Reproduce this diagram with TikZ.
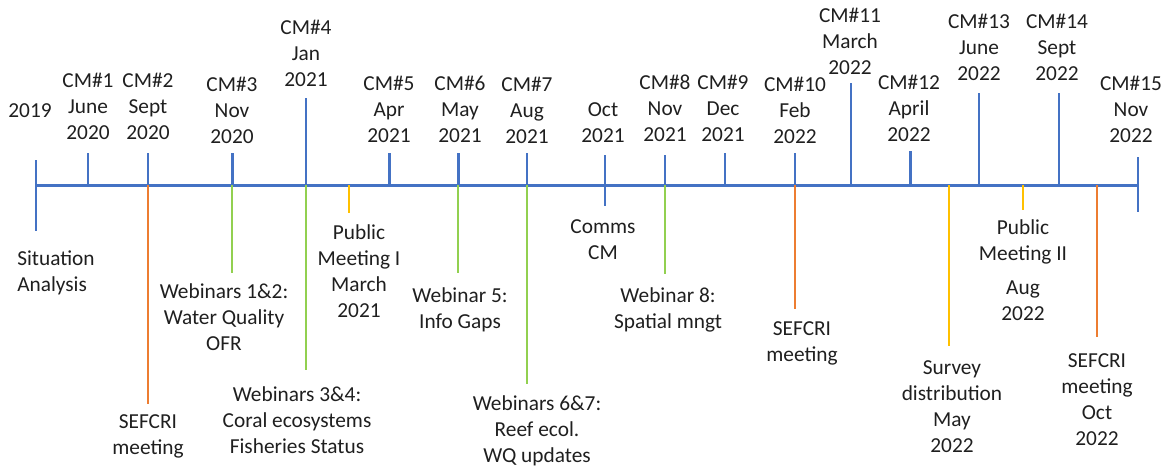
\documentclass[tikz,border=0pt]{standalone}
\usepackage{fontspec}
\setmainfont{Carlito}
\definecolor{tlblue}{HTML}{4472C4}
\definecolor{tlorange}{HTML}{ED7D31}
\definecolor{tlgreen}{HTML}{92D050}
\definecolor{tlyellow}{HTML}{FFC000}
\begin{document}
\begin{tikzpicture}[x=0.75pt,y=-0.75pt,
  lbl/.style={align=center,inner sep=0pt,font=\fontsize{16}{19.5}\selectfont,text=black!88},
  axisline/.style={draw=tlblue,line width=2.25pt},
  bluetick/.style={draw=tlblue,line width=1.3pt},
  boldtick/.style={draw=tlblue,line width=2.25pt},
  orangeline/.style={draw=tlorange,line width=1.5pt},
  greenline/.style={draw=tlgreen,line width=1.6pt},
  yellowline/.style={draw=tlyellow,line width=1.6pt}]
\useasboundingbox (0,0) rectangle (1169,468);

% timeline axis
\coordinate (ax0) at (36,185);
\coordinate (ax1) at (1138,185);
\draw[axisline] (ax0) -- (ax1);

% end markers crossing the axis
\coordinate (s0) at (36,160);  \coordinate (s1) at (36,231);
\draw[bluetick] (s0) -- (s1);
\coordinate (e0) at (1138,157); \coordinate (e1) at (1138,212);
\draw[bluetick] (e0) -- (e1);
\coordinate (oc0) at (605,155); \coordinate (oc1) at (605,206);
\draw[bluetick] (oc0) -- (oc1);

% meeting ticks above the axis
\coordinate (c1) at (88,153);   \draw[bluetick] (c1) -- (c1 |- ax0);
\coordinate (c2) at (148,153);  \draw[bluetick] (c2) -- (c2 |- ax0);
\coordinate (c3) at (232,153);  \draw[boldtick] (c3) -- (c3 |- ax0);
\coordinate (c4) at (306,98);   \draw[bluetick] (c4) -- (c4 |- ax0);
\coordinate (c5) at (389,153);  \draw[boldtick] (c5) -- (c5 |- ax0);
\coordinate (c6) at (458,153);  \draw[boldtick] (c6) -- (c6 |- ax0);
\coordinate (c7) at (527,153);  \draw[bluetick] (c7) -- (c7 |- ax0);
\coordinate (c8) at (665,155);  \draw[bluetick] (c8) -- (c8 |- ax0);
\coordinate (c9) at (725,153);  \draw[bluetick] (c9) -- (c9 |- ax0);
\coordinate (c10) at (795,153); \draw[bluetick] (c10) -- (c10 |- ax0);
\coordinate (c11) at (851,83);  \draw[bluetick] (c11) -- (c11 |- ax0);
\coordinate (c12) at (910,151); \draw[boldtick] (c12) -- (c12 |- ax0);
\coordinate (c13) at (979,93);  \draw[bluetick] (c13) -- (c13 |- ax0);
\coordinate (c14) at (1059,93); \draw[bluetick] (c14) -- (c14 |- ax0);

% event lines below the axis
\coordinate (o1) at (148,404);  \draw[orangeline] (o1 |- ax0) -- (o1);
\coordinate (g1) at (232,273);  \draw[greenline] (g1 |- ax0) -- (g1);
\coordinate (g2) at (306,370);  \draw[greenline] (g2 |- ax0) -- (g2);
\coordinate (y1) at (349,213);  \draw[yellowline] (y1 |- ax0) -- (y1);
\coordinate (g3) at (458,273);  \draw[greenline] (g3 |- ax0) -- (g3);
\coordinate (g4) at (527,384);  \draw[greenline] (g4 |- ax0) -- (g4);
\coordinate (g5) at (665,274);  \draw[greenline] (g5 |- ax0) -- (g5);
\coordinate (o2) at (795,309);  \draw[orangeline] (o2 |- ax0) -- (o2);
\coordinate (y2) at (949,346);  \draw[yellowline] (y2 |- ax0) -- (y2);
\coordinate (y3) at (1023,210); \draw[yellowline] (y3 |- ax0) -- (y3);
\coordinate (o3) at (1097,337); \draw[orangeline] (o3 |- ax0) -- (o3);

% labels above the axis
\node[lbl] (l2019) at (30,111) {2019};
\node[lbl] (lc1) at (88,106) {CM\#1\\June\\2020};
\node[lbl] (lc2) at (148,106) {CM\#2\\Sept\\2020};
\node[lbl] (lc3) at (232,110) {CM\#3\\Nov\\2020};
\node[lbl] (lc4) at (306,53) {CM\#4\\Jan\\2021};
\node[lbl] (lc5) at (389,109) {CM\#5\\Apr\\2021};
\node[lbl] (lc6) at (460,109) {CM\#6\\May\\2021};
\node[lbl] (lc7) at (527,110) {CM\#7\\Aug\\2021};
\node[lbl] (loct) at (603,123) {Oct\\2021};
\node[lbl] (lc8) at (665,108) {CM\#8\\Nov\\2021};
\node[lbl] (lc9) at (723,108) {CM\#9\\Dec\\2021};
\node[lbl] (lc10) at (795,110) {CM\#10\\Feb\\2022};
\node[lbl] (lc11) at (850,41) {CM\#11\\March\\2022};
\node[lbl] (lc12) at (909,108) {CM\#12\\April\\2022};
\node[lbl] (lc13) at (979,47) {CM\#13\\June\\2022};
\node[lbl] (lc14) at (1057,47) {CM\#14\\Sept\\2022};
\node[lbl] (lc15) at (1131,109) {CM\#15\\Nov\\2022};

% labels below the axis
\node[lbl,anchor=west,align=left] (lsit) at (17,273) {Situation\\Analysis};
\node[lbl] (lsef1) at (148,436) {SEFCRI\\meeting};
\node[lbl] (lw12) at (224,317) {Webinars 1\&2:\\Water Quality\\OFR};
\node[lbl] (lpm1) at (359,271) {Public\\Meeting I\\March\\2021};
\node[lbl] (lw34) at (297,420) {Webinars 3\&4:\\Coral ecosystems\\Fisheries Status};
\node[lbl] (lw5) at (460,310) {Webinar 5:\\Info Gaps};
\node[lbl] (lw67) at (537,431) {Webinars 6\&7:\\Reef ecol.\\WQ updates};
\node[lbl] (lcomms) at (603,240) {Comms\\CM};
\node[lbl] (lw8) at (668,310) {Webinar 8:\\Spatial mngt};
\node[lbl] (lsef2) at (802,343) {SEFCRI\\meeting};
\node[lbl] (lsurv) at (952,407) {Survey\\distribution\\May\\2022};
\node[lbl] (lpm2) at (1023,270) {Public\\Meeting II\\[6pt]Aug\\2022};
\node[lbl] (lsef3) at (1097,400) {SEFCRI\\meeting\\Oct\\2022};
\end{tikzpicture}
\end{document}
